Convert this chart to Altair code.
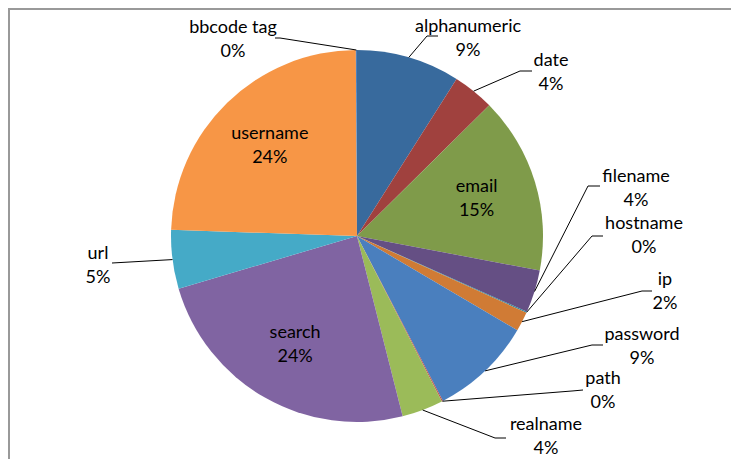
import altair as alt
import pandas as pd

# ---- data ----
categories = ["alphanumeric", "date", "email", "filename", "hostname", "ip",
              "password", "path", "realname", "search", "url", "username", "bbcode tag"]
shares = [9.0, 3.6, 15.4, 3.7, 0.1, 1.7, 8.9, 0.1, 3.6, 24.4, 5.1, 24.4, 0.1]
colors = ["#386A9D", "#A0413E", "#7F9B4A", "#654F84", "#31859C", "#D07B35",
          "#4A7FBE", "#C0504D", "#9BBB59", "#8064A2", "#45AAC7", "#F79646", "#4F81BD"]

# ---- layout (pixels, relative to the pie centre) ----
W, H = 723, 451
CX, CY, R = 349, 228, 186
FONT, FS, LH = "Lato", 18, 24
# label block centre (lx, ly), leader elbow (ex, ey), leader end (hx, hy)
label_layout = {
    "alphanumeric": (111, -197, 70, -200, 81, -200),
    "date":         (194, -163, 163, -165, 175, -165),
    "filename":     (279, -47, 231, -50, 243, -50),
    "hostname":     (287, 0, 235, 0, 246, 0),
    "ip":           (308, 56, 285, 55, 295, 55),
    "password":     (285, 111, 235, 109, 246, 109),
    "path":         (246, 155, 215, 155, 226, 154),
    "realname":     (189, 201, 138, 202, 149, 202),
    "url":          (-259, 30, -245, 27, -245, 27),
    "bbcode tag":   (-124, -196, -77, -198, -82, -198),
}

rows = []
for i, (c, s) in enumerate(zip(categories, shares)):
    row = {"category": c, "value": s, "order": i, "outside": c in label_layout}
    if c in label_layout:
        lx, ly, ex, ey, hx, hy = label_layout[c]
        row.update(lx=CX + lx, ly=CY + ly, ex=CX + ex, ey=CY + ey, hx=CX + hx, hy=CY + hy)
    rows.append(row)
df = pd.DataFrame(rows)

base = alt.Chart(df).transform_joinaggregate(
    total="sum(value)"
).transform_window(
    cum="sum(value)", sort=[alt.SortField("order")], frame=[None, 0]
).transform_calculate(
    mid="(datum.cum - datum.value / 2) / datum.total * 2 * PI",
    sx=f"{CX} + {R} * sin(datum.mid)",
    sy=f"{CY} - {R} * cos(datum.mid)",
    pct="format(datum.value / datum.total, '.0%')",
    label="datum.category + '\\n' + datum.pct",
    inlabel="datum.outside ? '' : datum.label",
)

theta = alt.Theta("value:Q", stack=True)
order = alt.Order("order:Q")

pie = base.mark_arc(outerRadius=R).encode(
    theta=theta,
    order=order,
    color=alt.Color("category:N", scale=alt.Scale(domain=categories, range=colors), legend=None),
    x=alt.value(CX),
    y=alt.value(CY),
)

text_style = dict(font=FONT, fontSize=FS, color="#000000", lineBreak="\n",
                  lineHeight=LH, align="center", baseline="middle", dy=-LH / 2)

inside = base.mark_text(radius=125, **text_style).encode(
    theta=theta,
    order=order,
    text=alt.Text("inlabel:N"),
    x=alt.value(CX),
    y=alt.value(CY),
)

out = base.transform_filter("datum.outside")

lead1 = out.mark_rule(color="#000000", strokeWidth=1).encode(
    x=alt.X("sx:Q", scale=None, axis=None),
    y=alt.Y("sy:Q", scale=None, axis=None),
    x2="ex:Q",
    y2="ey:Q",
)
lead2 = out.mark_rule(color="#000000", strokeWidth=1).encode(
    x=alt.X("ex:Q", scale=None, axis=None),
    y=alt.Y("ey:Q", scale=None, axis=None),
    x2="hx:Q",
    y2="hy:Q",
)
outside = out.mark_text(**text_style).encode(
    x=alt.X("lx:Q", scale=None, axis=None),
    y=alt.Y("ly:Q", scale=None, axis=None),
    text=alt.Text("label:N"),
)

frame_df = pd.DataFrame({"k": [0]})
top_border = alt.Chart(frame_df).mark_rule(color="#999999", strokeWidth=2).encode(
    x=alt.value(0), x2=alt.value(W), y=alt.value(1))
left_border = alt.Chart(frame_df).mark_rule(color="#999999", strokeWidth=2).encode(
    x=alt.value(1), y=alt.value(0), y2=alt.value(H))

chart = alt.layer(pie, lead1, lead2, inside, outside, top_border, left_border).properties(
    width=W, height=H, autosize=alt.AutoSizeParams(type="none"), padding=0,
    background="white",
).configure_view(stroke=None)

chart.save("out.html", embed_options={"renderer": "svg", "actions": False})
